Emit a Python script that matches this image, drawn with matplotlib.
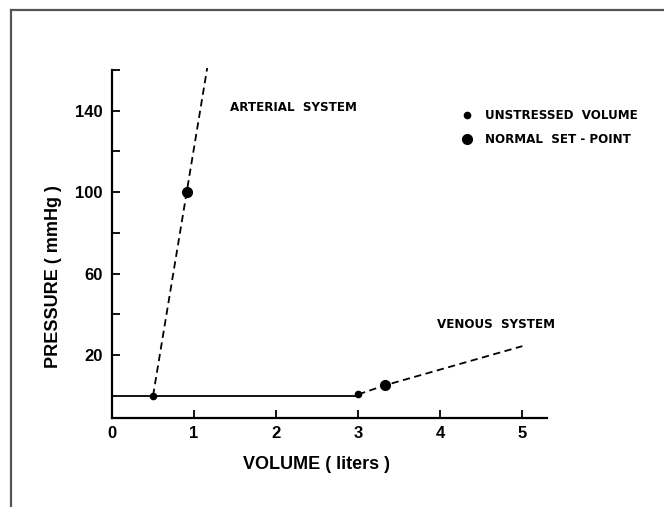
import matplotlib
matplotlib.use("Agg")
import matplotlib.pyplot as plt
from matplotlib.lines import Line2D

# data (volume in liters, pressure in mmHg)
arterial_vol = [0.5, 0.91, 1.16]
arterial_pres = [0.0, 100.0, 161.0]
flat_vol = [0.0, 3.0]
flat_pres = [0.0, 0.0]
venous_vol = [3.0, 3.33, 5.0]
venous_pres = [0.7, 5.2, 24.4]
unstressed_vol = [0.5, 3.0]
unstressed_pres = [0.0, 0.7]
setpoint_vol = [0.91, 3.33]
setpoint_pres = [100.0, 5.2]

x_ticks = [0, 1, 2, 3, 4, 5]
y_major = [20, 60, 100, 140]
y_minor = [40, 80, 120, 160]

W, H = 664, 507
fig = plt.figure(figsize=(W / 100, H / 100), dpi=100)
plt.rcParams['font.family'] = ['Liberation Sans', 'DejaVu Sans']

# grey frame around the picture (top and left only visible)
fig.add_artist(Line2D([11 / W, 1.0], [1 - 10 / H, 1 - 10 / H], transform=fig.transFigure,
                      color="#555555", lw=1.6))
fig.add_artist(Line2D([11 / W, 11 / W], [0.0, 1 - 10 / H], transform=fig.transFigure,
                      color="#555555", lw=1.6))

left, right, top, bottom = 112, 547, 70, 418
ax = fig.add_axes([left / W, 1 - bottom / H, (right - left) / W, (bottom - top) / H])
ax.set_xlim(0, 5.3)
ax.set_ylim(-10.9, 158.9)

ax.plot(arterial_vol, arterial_pres, color="black", lw=1.3, ls=(0, (4, 2.5)), clip_on=False)
ax.plot(venous_vol, venous_pres, color="black", lw=1.3, ls=(0, (4, 2.5)))
ax.plot(flat_vol, flat_pres, color="black", lw=1.3)
ax.plot(unstressed_vol, unstressed_pres, "o", color="black", ms=4.5)
ax.plot(setpoint_vol, setpoint_pres, "o", color="black", ms=7)

for s in ["top", "right"]:
    ax.spines[s].set_visible(False)
for s in ["left", "bottom"]:
    ax.spines[s].set_linewidth(1.6)

ax.set_xticks(x_ticks)
ax.set_xticklabels([str(v) for v in x_ticks])
ax.set_yticks(y_major)
ax.set_yticklabels([str(v) for v in y_major])
ax.set_yticks(y_minor, minor=True)
ax.tick_params(axis="both", which="both", direction="in", length=6, width=1.3,
               labelsize=12, pad=6)
ax.tick_params(axis="y", which="major", pad=7)
for lab in ax.get_xticklabels() + ax.get_yticklabels():
    lab.set_fontweight("bold")

ax.set_xlabel("VOLUME ( liters )", fontsize=13, fontweight="bold")
ax.xaxis.set_label_coords(0.471, -0.11)
fig.text(54 / W, 1 - 277 / H, "PRESSURE ( mmHg )", rotation=90, fontsize=13,
         fontweight="bold", ha="center", va="center")

note = dict(fontsize=8.6, fontweight="bold", va="center", family="DejaVu Sans")
ax.text(1.44, 141.8, "ARTERIAL  SYSTEM", **note)
ax.text(3.96, 35, "VENOUS  SYSTEM", **note)

# key
ax.plot([4.32], [137.8], "o", color="black", ms=4.5, clip_on=False)
ax.plot([4.32], [125.9], "o", color="black", ms=7, clip_on=False)
ax.text(4.55, 137.8, "UNSTRESSED  VOLUME", **note)
ax.text(4.55, 125.9, "NORMAL  SET - POINT", **note)

fig.savefig("out.png", dpi=100)
